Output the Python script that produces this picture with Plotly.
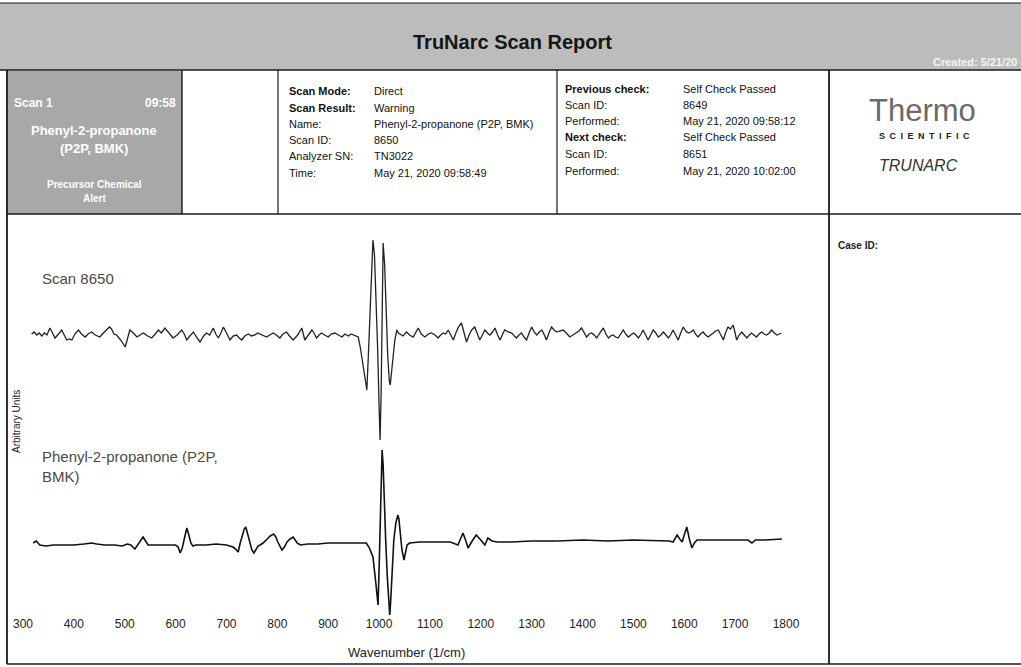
import plotly.graph_objects as go

# ---------------- data ----------------
TICK_VALUES = [300, 400, 500, 600, 700, 800, 900, 1000, 1100, 1200, 1300, 1400, 1500, 1600, 1700, 1800]

SCAN_LABEL = "Scan 8650"
REF_LABEL = "Phenyl-2-propanone (P2P,<br>BMK)"

SCAN_WN = [317, 322, 327, 332, 337, 342, 347, 353, 358, 363, 370, 376, 381, 386, 391, 396, 402, 409, 415, 422,
           428, 435, 442, 451, 458, 465, 470, 474, 479, 484, 492, 501, 506, 510, 517, 524, 530, 537, 545, 553,
           560, 566, 572, 579, 587, 595, 603, 612, 617, 622, 628, 635, 641, 648, 655, 661, 667, 674, 679, 684,
           689, 694, 700, 707, 713, 720, 725, 730, 736, 743, 749, 756, 761, 766, 772, 779, 785, 792, 798, 805,
           811, 818, 824, 831, 840, 848, 854, 861, 868, 872, 877, 882, 887, 893, 900, 906, 913, 920, 927, 933,
           940, 945, 949, 954, 959, 963, 967, 971, 976, 979, 982, 985, 988, 991, 994, 997, 1000, 1002, 1004, 1006,
           1008, 1011, 1014, 1017, 1020, 1022, 1025, 1028, 1031, 1035, 1038, 1041, 1047, 1054, 1060, 1067, 1072, 1077, 1083, 1090,
           1097, 1103, 1110, 1116, 1121, 1126, 1131, 1136, 1141, 1146, 1151, 1156, 1162, 1167, 1172, 1177, 1182, 1188, 1193, 1198,
           1203, 1208, 1213, 1218, 1223, 1228, 1233, 1238, 1243, 1247, 1254, 1261, 1266, 1270, 1275, 1280, 1285, 1290, 1295, 1300,
           1305, 1310, 1315, 1320, 1325, 1329, 1334, 1339, 1344, 1349, 1355, 1362, 1368, 1375, 1381, 1388, 1393, 1398, 1403, 1408,
           1413, 1418, 1423, 1428, 1434, 1441, 1446, 1451, 1455, 1460, 1465, 1470, 1475, 1480, 1485, 1490, 1495, 1500, 1505, 1510,
           1515, 1519, 1524, 1529, 1534, 1539, 1544, 1549, 1554, 1559, 1564, 1569, 1574, 1578, 1583, 1588, 1593, 1598, 1603, 1608,
           1613, 1618, 1622, 1627, 1632, 1637, 1642, 1647, 1652, 1657, 1662, 1667, 1672, 1677, 1681, 1686, 1691, 1696, 1700, 1703,
           1708, 1713, 1718, 1723, 1728, 1732, 1737, 1742, 1747, 1752, 1757, 1762, 1767, 1772, 1777, 1782, 1787, 1791]
SCAN_INT = [1, 3, 0, 2, -1, 2, 0, 7, 2, -3, 1, 5, 0, -5, -4, -5, 1, 5, 1, -2,
            1, 3, 0, -2, 2, 6, 8, 6, 1, 0, -5, -12, -3, 5, 2, -2, 0, 2, -1, -3,
            1, 5, 2, 7, 2, -3, 0, 5, 1, -5, -1, 3, -2, -7, -1, 2, 0, 7, 1, -3,
            2, 8, 2, -5, -1, 0, -3, -5, -1, 1, -1, 0, 2, 1, -1, -2, 0, 2, 0, -3,
            1, 3, -1, -5, 0, 7, -5, 0, 5, 2, -3, 0, 2, 0, -2, 1, 2, 0, -2, 1,
            -1, 1, 0, -1, -2, -12, -25, -42, -55, -20, 20, 65, 95, 80, 40, -10, -70, -105, -60, 30,
            92, 70, 20, -20, -45, -50, -35, -18, -5, 5, 2, 1, -1, 3, 0, -2, 2, 7, 1, -2,
            1, 2, 0, -3, 0, 2, 1, 5, 0, -5, 2, 8, 12, 3, -7, 0, 5, 8, 2, -5,
            0, 5, 2, 0, 3, 7, 0, -5, 1, 5, 3, 2, -1, -3, 0, 2, -2, -5, 2, 8,
            3, 0, 3, 5, 0, -5, 2, 8, 5, 3, 4, 5, 2, -2, 0, 2, 4, 7, 2, -2,
            1, 2, 0, -3, 2, 7, 1, -3, -1, 0, -2, -3, 1, 5, 1, -2, 0, 2, 0, -3,
            1, 5, 0, -5, 0, 5, 2, -2, 0, 3, 0, -3, 1, 5, 0, -5, 2, 8, 4, 2,
            3, 5, 1, -2, 1, 3, 0, -2, 0, 2, 4, 5, 0, -5, 2, 8, 6, 10, 2, -5,
            0, 3, 0, -3, 0, 2, 0, -2, 1, 3, 1, 0, 2, 5, 2, 0, 1, 2]

REF_WN = [320, 326, 333, 345, 360, 380, 400, 420, 435, 445, 460, 480, 495, 505, 512, 520, 528, 536, 541, 546,
          560, 580, 600, 605, 609, 613, 616, 619, 622, 626, 630, 634, 640, 660, 680, 700, 713, 718, 723, 727,
          731, 735, 738, 742, 746, 750, 754, 758, 762, 766, 772, 780, 786, 793, 797, 801, 805, 809, 814, 819,
          825, 831, 835, 839, 845, 860, 880, 900, 920, 940, 960, 975, 981, 988, 993, 996, 998, 1000, 1002, 1004,
          1006, 1008, 1010, 1013, 1016, 1019, 1021, 1023, 1026, 1029, 1033, 1037, 1039, 1041, 1045, 1049, 1052, 1055, 1060, 1080,
          1100, 1120, 1140, 1155, 1160, 1165, 1170, 1175, 1183, 1191, 1200, 1208, 1214, 1222, 1232, 1260, 1300, 1350, 1400, 1450,
          1500, 1550, 1570, 1578, 1582, 1586, 1591, 1596, 1600, 1605, 1610, 1615, 1620, 1625, 1650, 1700, 1725, 1733, 1740, 1760,
          1792]
REF_INT = [2, 4, 0, -1, 0, 0, 0, 1, 2, 1, 0, 0, -1, 1, 0, -4, 2, 8, 4, 0,
           0, 0, 0, -2, -8, -3, 5, 12, 17, 10, 2, -1, 0, 0, 1, 0, -2, -4, -7, 2,
           10, 16, 18, 10, 0, -5, -8, -4, -1, 0, 2, 6, 9, 11, 8, 3, -2, -5, -2, 3,
           6, 8, 5, 2, 0, 1, 1, 2, 2, 2, 2, 2, -3, -12, -35, -55, -60, -25, 10, 60,
           95, 80, 45, 5, -30, -60, -70, -55, -20, 5, 22, 30, 26, 15, -5, -15, -8, 0, 2, 3,
           3, 3, 3, 0, 6, 12, 5, -3, 4, 10, 5, 0, 7, 4, 3, 3, 4, 4, 5, 4,
           5, 4, 4, 3, 7, 10, 6, 3, 10, 18, 6, -3, 2, 5, 5, 5, 5, 2, 5, 5,
           6]

HEADER_LABELS_1 = ["Scan Mode:", "Scan Result:", "Name:", "Scan ID:", "Analyzer SN:", "Time:"]
HEADER_VALUES_1 = ["Direct", "Warning", "Phenyl-2-propanone (P2P, BMK)", "8650", "TN3022", "May 21, 2020 09:58:49"]
HEADER_LABELS_2 = ["Previous check:", "Scan ID:", "Performed:", "Next check:", "Scan ID:", "Performed:"]
HEADER_VALUES_2 = ["Self Check Passed", "8649", "May 21, 2020 09:58:12", "Self Check Passed", "8651", "May 21, 2020 10:02:00"]

# ---------------- layout helpers ----------------
W, H = 1021, 667
FONT = "Liberation Sans"
SCAN_OFFSET = 210


def px(x):
    return x / W


def py(y):
    return 1 - y / H


fig = go.Figure()
fig.add_trace(go.Scatter(x=REF_WN, y=REF_INT, mode="lines",
                         line=dict(color="#111111", width=1.6), showlegend=False, hoverinfo="skip"))
fig.add_trace(go.Scatter(x=SCAN_WN, y=[v + SCAN_OFFSET for v in SCAN_INT], mode="lines",
                         line=dict(color="#222222", width=1.3), showlegend=False, hoverinfo="skip"))

shapes = []
# banner
shapes.append(dict(type="rect", xref="paper", yref="paper", x0=px(0), x1=px(W), y0=py(3), y1=py(70),
                   fillcolor="#bcbcbc", line=dict(width=0), layer="below"))
# left gray result box
shapes.append(dict(type="rect", xref="paper", yref="paper", x0=px(7), x1=px(182), y0=py(71), y1=py(214),
                   fillcolor="#a8a8a8", line=dict(width=0), layer="below"))


def hline(y, x0, x1, w=1.6):
    shapes.append(dict(type="line", xref="paper", yref="paper", x0=px(x0), x1=px(x1), y0=py(y), y1=py(y),
                       line=dict(color="#1a1a1a", width=w)))


def vline(x, y0, y1, w=1.6):
    shapes.append(dict(type="line", xref="paper", yref="paper", x0=px(x), x1=px(x), y0=py(y0), y1=py(y1),
                       line=dict(color="#1a1a1a", width=w)))


hline(3, 0, W, 1.2)
hline(70, 0, W, 1.6)
hline(214, 7, W, 1.6)
hline(664, 7, W, 1.6)
vline(7, 70, 664, 1.8)
vline(182, 70, 214, 1.4)
vline(278, 70, 214, 1.2)
vline(557, 70, 214, 1.2)
vline(829, 70, 664, 1.8)

ann = []


def text(x, y, s, size=11, color="#111111", xanchor="left", bold=False, italic=False, family=FONT, angle=0):
    if bold:
        s = "<b>" + s + "</b>"
    if italic:
        s = "<i>" + s + "</i>"
    ann.append(dict(x=px(x), y=py(y), xref="paper", yref="paper", text=s, showarrow=False,
                    xanchor=xanchor, yanchor="middle", textangle=angle,
                    font=dict(size=size, color=color, family=family)))


# banner title
text(512, 42, "TruNarc Scan Report", size=20, bold=True, xanchor="center", color="#151515")
text(1019, 62, "Created: 5/21/20", size=11, bold=True, xanchor="right", color="#f4f4f4")

# left result box
text(12, 103, "Scan 1", size=12, bold=True, color="#ffffff")
text(178, 103, "09:58", size=12, bold=True, color="#ffffff", xanchor="right")
text(94, 130, "Phenyl-2-propanone", size=13, bold=True, color="#ffffff", xanchor="center")
text(94, 148, "(P2P, BMK)", size=13, bold=True, color="#ffffff", xanchor="center")
text(94, 184, "Precursor Chemical", size=10, bold=True, color="#ffffff", xanchor="center")
text(94, 199, "Alert", size=10, bold=True, color="#ffffff", xanchor="center")

# header table 1
ys = [91, 108, 124, 140, 156, 173]
for i, (lab, val) in enumerate(zip(HEADER_LABELS_1, HEADER_VALUES_1)):
    text(287, ys[i], lab, size=11, bold=(i < 2))
    text(372, ys[i], val, size=11)
ys2 = [89, 105, 121, 137, 154, 171]
for i, (lab, val) in enumerate(zip(HEADER_LABELS_2, HEADER_VALUES_2)):
    text(563, ys2[i], lab, size=11, bold=(i in (0, 3)))
    text(681, ys2[i], val, size=11)

# logo
text(922, 111, "Thermo", size=31, color="#6a6a6a", xanchor="center")
text(924, 136, "S\u2002C\u2002I\u2002E\u2002N\u2002T\u2002I\u2002F\u2002I\u2002C", size=9, bold=True,
     xanchor="center", color="#222222")
text(918, 166, "TRUNARC", size=16, italic=True, xanchor="center", color="#333333")

# plot labels
text(40, 278, SCAN_LABEL, size=15, color="#4a4a4a")
ann.append(dict(x=px(40), y=py(446), xref="paper", yref="paper", text=REF_LABEL, showarrow=False,
                xanchor="left", yanchor="top", align="left",
                font=dict(size=15, color="#4a4a4a", family=FONT)))
text(406, 652, "Wavenumber (1/cm)", size=13, xanchor="center", color="#222222")
text(16, 422, "Arbitrary Units", size=10, xanchor="center", angle=-90, color="#222222")
text(836, 245, "Case ID:", size=10, bold=True, color="#222222")

fig.update_layout(
    width=W, height=H,
    margin=dict(l=0, r=0, t=0, b=0),
    paper_bgcolor="white", plot_bgcolor="rgba(0,0,0,0)",
    shapes=shapes, annotations=ann,
    font=dict(family=FONT),
    xaxis=dict(domain=[px(8), px(828)], range=[270.5, 1882.6], tickvals=TICK_VALUES,
               showgrid=False, zeroline=False, showline=False, ticks="",
               tickfont=dict(size=12, color="#222222", family=FONT)),
    yaxis=dict(domain=[1 - 615 / H, 1 - 232 / H], range=[-70, 313], visible=False),
    showlegend=False,
)

fig.write_html("out.html", config={"displayModeBar": False},
               post_script="document.body.style.margin='0';document.body.style.overflow='hidden';")
